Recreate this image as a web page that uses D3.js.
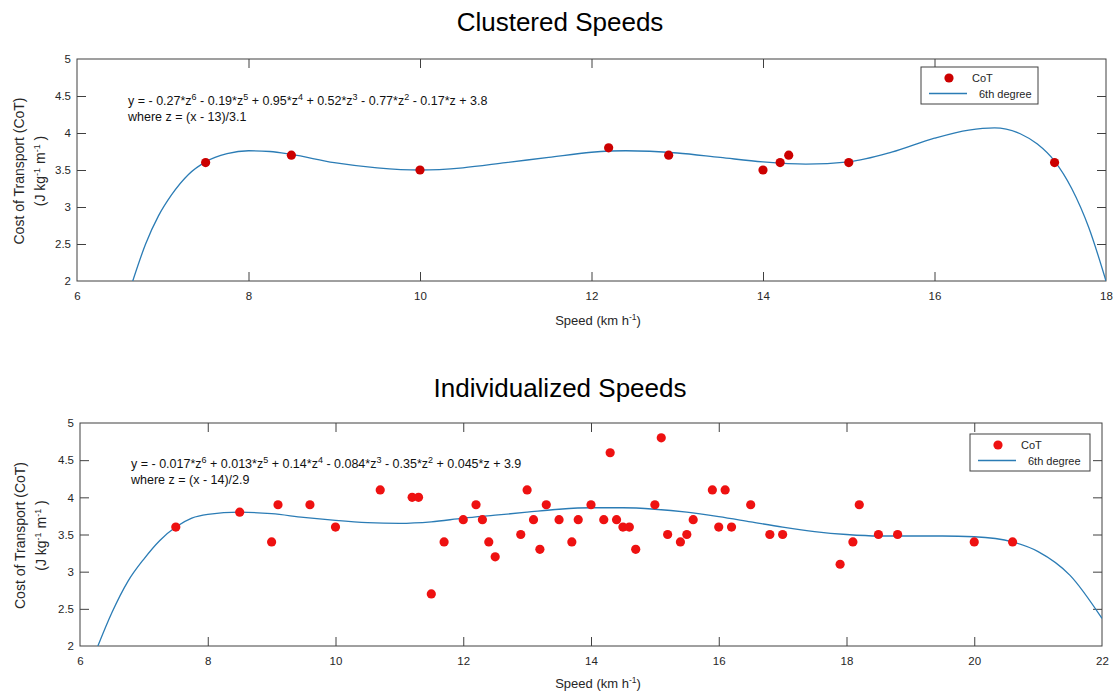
<!DOCTYPE html>
<html><head><meta charset="utf-8">
<script src="https://cdn.jsdelivr.net/npm/d3@7"></script>
<style>
body{margin:0;background:#fff;}
svg text{font-family:"Liberation Sans",Arial,Helvetica,sans-serif;white-space:pre;}
</style>
</head><body>
<svg id="chart" width="1115" height="695"></svg>
<script>
// ---------- Data ----------
const clusteredTitle = "Clustered Speeds";
const clusteredSpeed = [7.5, 8.5, 10, 12.2, 12.9, 14, 14.2, 14.3, 15, 17.4];
const clusteredCoT   = [3.6, 3.7, 3.5, 3.8, 3.7, 3.5, 3.6, 3.7, 3.6, 3.6];
const clusteredFitSpeed = [6.65, 6.8, 6.95, 7.1, 7.3, 7.5, 7.75, 8.0, 8.25, 8.5, 9.0, 9.5, 10, 10.5, 11, 11.5, 12, 12.4, 13, 13.5, 14, 14.5, 15, 15.5, 16, 16.4, 16.7, 17.0, 17.2, 17.4, 17.6, 17.8, 18.0];
const clusteredFitCoT   = [2.0, 2.5, 2.88, 3.16, 3.44, 3.61, 3.72, 3.76, 3.75, 3.71, 3.6, 3.53, 3.5, 3.53, 3.6, 3.67, 3.74, 3.76, 3.73, 3.67, 3.61, 3.58, 3.61, 3.74, 3.93, 4.04, 4.07, 3.99, 3.85, 3.62, 3.25, 2.72, 2.0];
const clusteredCoefficients = ["- 0.27", "- 0.19", "+ 0.95", "+ 0.52", "- 0.77", "- 0.17", "+ 3.8"];
const clusteredWhere = "where z = (x - 13)/3.1";
const clusteredXTicks = [6, 8, 10, 12, 14, 16, 18];

const individualTitle = "Individualized Speeds";
const individualSpeed = [7.5, 8.5, 9.0, 9.1, 9.6, 10, 10.7, 11.2, 11.3, 11.5, 11.7, 12.0, 12.2, 12.3, 12.4, 12.5, 12.9, 13.0, 13.1, 13.2, 13.3, 13.5,
  13.7, 13.8, 14.0, 14.2, 14.3, 14.4, 14.5, 14.6, 14.7, 15.0, 15.1, 15.2, 15.4, 15.5, 15.6, 15.9, 16.0, 16.1, 16.2, 16.5, 16.8, 17.0, 17.9, 18.1, 18.2, 18.5, 18.8, 20.0, 20.6];
const individualCoT   = [3.6, 3.8, 3.4, 3.9, 3.9, 3.6, 4.1, 4.0, 4.0, 2.7, 3.4, 3.7, 3.9, 3.7, 3.4, 3.2, 3.5, 4.1, 3.7, 3.3, 3.9, 3.7,
  3.4, 3.7, 3.9, 3.7, 4.6, 3.7, 3.6, 3.6, 3.3, 3.9, 4.8, 3.5, 3.4, 3.5, 3.7, 4.1, 3.6, 4.1, 3.6, 3.9, 3.5, 3.5, 3.1, 3.4, 3.9, 3.5, 3.5, 3.4, 3.4];
const individualFitSpeed = [6.28, 6.5, 6.75, 7.0, 7.25, 7.5, 7.75, 8.0, 8.5, 9.0, 9.5, 10, 10.5, 11, 11.5, 12, 12.5, 13, 13.5, 14, 14.5, 15, 15.5, 16, 16.5, 17, 17.5, 18, 18.5, 19, 19.5, 20, 20.6, 21, 21.5, 22];
const individualFitCoT   = [2.0, 2.45, 2.87, 3.17, 3.42, 3.6, 3.72, 3.77, 3.8, 3.78, 3.73, 3.69, 3.66, 3.65, 3.67, 3.72, 3.76, 3.8, 3.84, 3.86, 3.86, 3.84, 3.8, 3.74, 3.67, 3.6, 3.54, 3.5, 3.48, 3.48, 3.48, 3.47, 3.4, 3.27, 2.95, 2.37];
const individualCoefficients = ["- 0.017", "+ 0.013", "+ 0.14", "- 0.084", "- 0.35", "+ 0.045", "+ 3.9"];
const individualWhere = "where z = (x - 14)/2.9";
const individualXTicks = [6, 8, 10, 12, 14, 16, 18, 20, 22];

const yTicks = [2, 2.5, 3, 3.5, 4, 4.5, 5];
const legendLabels = ["CoT", "6th degree"];
const yLabelLine1 = "Cost of Transport (CoT)";
const xLabelMain = "Speed (km h";
const unitExp = "-1";

// ---------- Drawing ----------
const svg = d3.select("#chart");
const AXIS = "#404040", TXT = "#262626", FIT = "#2b7cb5";

// append runs of [text, isSuperscript] to a text element, keeping baselines right
function richText(el, runs, supSize, shift) {
  let up = false;
  runs.forEach(([t, sup]) => {
    const ts = el.append("tspan").text(t);
    if (sup && !up) { ts.attr("dy", -shift).attr("font-size", supSize); up = true; }
    else if (sup) { ts.attr("font-size", supSize); }
    else if (up) { ts.attr("dy", shift); up = false; }
  });
}

function drawPanel(o) {
  const x = d3.scaleLinear().domain([o.xTicks[0], o.xTicks[o.xTicks.length - 1]]).range([o.left, o.right]);
  const y = d3.scaleLinear().domain([yTicks[0], yTicks[yTicks.length - 1]]).range([o.bottom, o.top]);
  const g = svg.append("g");

  // title
  g.append("text").attr("x", 560).attr("y", o.titleY)
    .attr("text-anchor", "middle").attr("font-size", 26).attr("fill", "#000").text(o.title);

  // clip
  const cid = "clip" + o.id;
  svg.append("clipPath").attr("id", cid).append("rect")
    .attr("x", o.left).attr("y", o.top).attr("width", o.right - o.left).attr("height", o.bottom - o.top);

  // axes
  const fmt = d => String(d);
  const ax = [
    [d3.axisBottom(x).tickValues(o.xTicks).tickFormat(fmt), `translate(0,${o.bottom})`],
    [d3.axisTop(x).tickValues(o.xTicks).tickFormat(""), `translate(0,${o.top})`],
    [d3.axisLeft(y).tickValues(yTicks).tickFormat(fmt), `translate(${o.left},0)`],
    [d3.axisRight(y).tickValues(yTicks).tickFormat(""), `translate(${o.right},0)`]
  ];
  ax.forEach(([a, t], i) => {
    a.tickSizeInner(-9).tickSizeOuter(0).tickPadding(i === 0 ? 11 : 6);
    const ag = g.append("g").attr("transform", t).call(a);
    ag.select(".domain").remove();
    ag.selectAll(".tick line").attr("stroke", AXIS).attr("stroke-width", 1);
    ag.selectAll(".tick text").attr("fill", TXT).attr("font-size", 11.5)
      .attr("font-family", "Liberation Sans, Arial, sans-serif");
    ag.selectAll(".tick line").filter(d => (d === o.xTicks[0] || d === o.xTicks[o.xTicks.length-1]) && i < 2).remove();
    ag.selectAll(".tick line").filter(d => (d === yTicks[0] || d === yTicks[yTicks.length-1]) && i >= 2).remove();
  });
  g.append("rect").attr("x", o.left).attr("y", o.top).attr("width", o.right - o.left).attr("height", o.bottom - o.top)
    .attr("fill", "none").attr("stroke", AXIS).attr("stroke-width", 1);

  // fit curve
  const line = d3.line().x(d => x(d[0])).y(d => y(d[1])).curve(d3.curveMonotoneX);
  g.append("path").attr("clip-path", `url(#${cid})`)
    .datum(o.fitX.map((v, i) => [v, o.fitY[i]]))
    .attr("d", line).attr("fill", "none").attr("stroke", FIT).attr("stroke-width", 1.3);

  // points
  g.append("g").selectAll("circle").data(o.px.map((v, i) => [v, o.py[i]])).join("circle")
    .attr("cx", d => x(d[0])).attr("cy", d => y(d[1])).attr("r", 4.6).attr("fill", o.pointColor);

  // equation
  const eq = g.append("text").attr("x", o.eqX).attr("y", o.eqY).attr("font-size", 12.5).attr("fill", "#111");
  const pw = ["6", "5", "4", "3", "2"];
  const runs = [["y = ", false]];
  o.coef.forEach((c, i) => {
    const pre = i ? " " : "";
    if (i < 5) { runs.push([pre + c + "*z", false]); runs.push([pw[i], true]); }
    else if (i === 5) runs.push([pre + c + "*z", false]);
    else runs.push([pre + c, false]);
  });
  richText(eq, runs, 9, 5);
  g.append("text").attr("x", o.eqX).attr("y", o.eqY + 16.5).attr("font-size", 12.5).attr("fill", "#111").text(o.where);

  // legend
  const L = o.legend;
  g.append("rect").attr("x", L.x).attr("y", L.y).attr("width", L.w).attr("height", L.h)
    .attr("fill", "#fff").attr("stroke", AXIS).attr("stroke-width", 1);
  g.append("circle").attr("cx", L.x + 28).attr("cy", L.y + 11).attr("r", 4.6).attr("fill", o.pointColor);
  g.append("text").attr("x", L.x + 51).attr("y", L.y + 15).attr("font-size", 11).attr("fill", TXT).text(legendLabels[0]);
  g.append("line").attr("x1", L.x + 8).attr("x2", L.x + 46).attr("y1", L.y + 26.5).attr("y2", L.y + 26.5)
    .attr("stroke", FIT).attr("stroke-width", 1.3);
  g.append("text").attr("x", L.x + 58).attr("y", L.y + 30.5).attr("font-size", 11).attr("fill", TXT).text(legendLabels[1]);

  // y label
  const yl = g.append("text").attr("transform", `translate(${o.yLabX},${(o.top + o.bottom) / 2 + 1}) rotate(-90)`)
    .attr("text-anchor", "middle").attr("font-size", 14).attr("fill", TXT);
  yl.append("tspan").attr("x", 0).attr("y", 0).text(yLabelLine1);
  const yl2 = g.append("text").attr("transform", `translate(${o.yLabX + 21},${(o.top + o.bottom) / 2 + 1}) rotate(-90)`)
    .attr("text-anchor", "middle").attr("font-size", 14).attr("fill", TXT);
  richText(yl2, [["(J kg", false], [unitExp, true], [" m", false], [unitExp, true], [" )", false]], 9, 5);

  // x label
  const xl = g.append("text").attr("x", o.xLabX).attr("y", o.xLabY).attr("text-anchor", "middle")
    .attr("font-size", 13).attr("fill", TXT);
  richText(xl, [[xLabelMain, false], [unitExp, true], [")", false]], 8.5, 5);
}

drawPanel({
  id: "a", title: clusteredTitle, titleY: 31,
  left: 77, right: 1106, top: 59, bottom: 281, xTicks: clusteredXTicks,
  px: clusteredSpeed, py: clusteredCoT, fitX: clusteredFitSpeed, fitY: clusteredFitCoT,
  pointColor: "#cc0000", coef: clusteredCoefficients, where: clusteredWhere,
  eqX: 128, eqY: 104.5,
  legend: { x: 921, y: 67, w: 117, h: 37 },
  yLabX: 24, xLabX: 598, xLabY: 325
});
drawPanel({
  id: "b", title: individualTitle, titleY: 397,
  left: 80, right: 1102, top: 423, bottom: 646, xTicks: individualXTicks,
  px: individualSpeed, py: individualCoT, fitX: individualFitSpeed, fitY: individualFitCoT,
  pointColor: "#ee1111", coef: individualCoefficients, where: individualWhere,
  eqX: 131, eqY: 467.5,
  legend: { x: 970, y: 434, w: 120, h: 37 },
  yLabX: 25, xLabX: 598, xLabY: 688
});
</script>
</body></html>
